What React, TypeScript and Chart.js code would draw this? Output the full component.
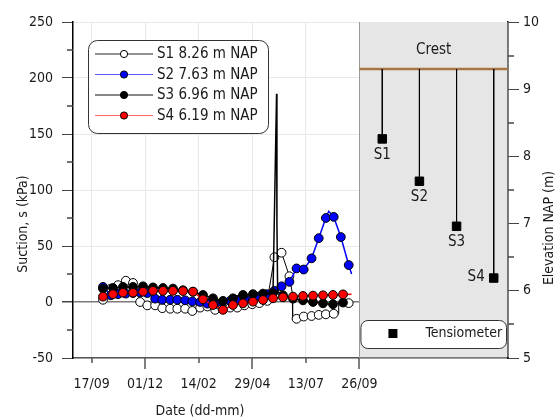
import React, { useEffect, useRef } from 'react';
import { Chart, registerables } from 'chart.js';

Chart.register(...registerables);

// x axis: days after 17/09
const TICK_DAYS = [0, 75, 150, 225, 300, 375];
const TICK_LABELS = ['17/09', '01/12', '14/02', '29/04', '13/07', '26/09'];

// S1 8.26 m NAP (open markers)
const S1_DAYS = [16, 27, 37, 48, 58, 68, 78, 89, 99, 110, 120, 131, 141, 152, 162, 173, 183, 194, 204, 214, 225, 235, 246, 256, 266, 277, 287, 297, 308, 318, 328, 339, 360];
const S1_VALUES = [2, 12, 15, 19, 17, 0, -3, -3, -5.5, -6, -6, -6, -8, -5, -4, -7, -6, -5, -5, -3, -2, -1, 1, 40, 44, 23, -15, -13, -12.5, -11.5, -11, -10.5, -1];
const S1_LINE_DAYS = [281, 281.5, 345.5, 346];
const S1_LINE_VALUES = [8, -16, -10.5, -1.2];

// S2 7.63 m NAP
const S2_DAYS = [16, 27, 37, 48, 58, 68, 78, 89, 99, 110, 120, 131, 141, 152, 162, 173, 183, 194, 204, 214, 225, 235, 246, 256, 266, 277, 287, 297, 308, 318, 328, 339, 349, 360];
const S2_VALUES = [13.5, 6, 7, 7.5, 8, 8.5, 8, 3, 2, 2, 2, 1.5, 0.5, 0, -1.5, -2, 0, 1, 2, 3, 4, 5, 7, 10, 14, 18, 30, 29, 39, 57, 75, 76, 58, 33];
const S2_LINE_DAYS = [332, 364];
const S2_LINE_VALUES = [81, 25];

// S3 6.96 m NAP
const S3_DAYS = [16, 30, 44, 58, 72, 86, 100, 114, 128, 142, 156, 170, 184, 198, 212, 226, 240, 254, 268, 282, 296, 310, 324, 338, 352];
const S3_VALUES = [12, 12.5, 13.5, 13.5, 14, 13, 12.5, 12, 10.5, 9.2, 6.3, 3.3, 1, 3.3, 6.3, 7, 7.5, 8, 6, 3, 1.5, 0, -1.2, -2, -0.5];
const S3_LINE_DAYS = [259, 259.5, 260.5];
const S3_LINE_VALUES = [186, 70, 9];

// S4 6.19 m NAP
const S4_DAYS = [16, 30, 44, 58, 72, 86, 100, 114, 128, 142, 156, 170, 184, 198, 212, 226, 240, 254, 268, 282, 296, 310, 324, 338, 352];
const S4_VALUES = [4.8, 7, 8.3, 8.3, 9.2, 10, 10, 10, 9.8, 9.2, 2.4, -2.7, -7, -2.7, -1.2, 0.3, 1.8, 3.3, 4.2, 4.8, 5.4, 5.7, 6, 6.3, 6.8];
const S4_LINE_DAYS = [364];
const S4_LINE_VALUES = [7];

const SERIES_NAMES = ['S1 8.26 m NAP', 'S2 7.63 m NAP', 'S3 6.96 m NAP', 'S4 6.19 m NAP'];
const SENSOR_NAMES = ['S1', 'S2', 'S3', 'S4'];
const SENSOR_ELEVATIONS = [8.26, 7.63, 6.96, 6.19];
const CREST_ELEVATION = 9.3;

const X_MIN = -26;
const X_MAX = 583;
const PANEL_FIRST_DAY = 375;

const FONT = "'DejaVu Sans Condensed', 'DejaVu Sans', sans-serif";
const TEXT = '#1a1a1a';

const STYLES = [
  { line: '#000000', width: 1, fill: '#ffffff', legendLine: '#222222' },
  { line: '#0000ff', width: 1.5, fill: '#0000ff', legendLine: '#5a5aff' },
  { line: '#000000', width: 1.5, fill: '#000000', legendLine: '#111111' },
  { line: '#ff0000', width: 1.5, fill: '#ff0000', legendLine: '#ff6666' },
];

type Pt = { x: number; y: number; m: boolean };

function buildPoints(days: number[], vals: number[], lineDays: number[], lineVals: number[]): Pt[] {
  const pts: Pt[] = days.map((d, i) => ({ x: d, y: vals[i], m: true }));
  lineDays.forEach((d, i) => pts.push({ x: d, y: lineVals[i], m: false }));
  return pts.sort((a, b) => a.x - b.x);
}

function roundRect(ctx: CanvasRenderingContext2D, x: number, y: number, w: number, h: number, r: number) {
  ctx.beginPath();
  ctx.moveTo(x + r, y);
  ctx.lineTo(x + w - r, y);
  ctx.arcTo(x + w, y, x + w, y + r, r);
  ctx.lineTo(x + w, y + h - r);
  ctx.arcTo(x + w, y + h, x + w - r, y + h, r);
  ctx.lineTo(x + r, y + h);
  ctx.arcTo(x, y + h, x, y + h - r, r);
  ctx.lineTo(x, y + r);
  ctx.arcTo(x, y, x + r, y, r);
  ctx.closePath();
}

function sensorDay(i: number) {
  return PANEL_FIRST_DAY + 32 + i * 52;
}

const decorPlugin = {
  id: 'decor',
  beforeDatasetsDraw(chart: any) {
    const { ctx, chartArea: a, scales } = chart;
    const p0 = scales.x.getPixelForValue(PANEL_FIRST_DAY);
    ctx.save();
    ctx.fillStyle = '#e6e6e6';
    ctx.fillRect(p0, a.top, a.right - p0 - 0.5, a.bottom - a.top - 0.75);
    ctx.strokeStyle = '#9a9a9a';
    ctx.lineWidth = 1;
    ctx.beginPath();
    ctx.moveTo(Math.round(p0) + 0.5, a.top);
    ctx.lineTo(Math.round(p0) + 0.5, a.bottom);
    ctx.stroke();
    ctx.restore();
  },
  afterDraw(chart: any) {
    const { ctx, chartArea: a, scales } = chart;
    const { x, y, y2 } = scales;
    ctx.save();

    // x tick marks (alternating long/short)
    ctx.strokeStyle = '#555';
    ctx.lineWidth = 1.5;
    TICK_DAYS.forEach((d, i) => {
      const px = Math.round(x.getPixelForValue(d));
      const len = i % 2 === 1 ? 11 : 5;
      ctx.beginPath();
      ctx.moveTo(px, a.bottom);
      ctx.lineTo(px, a.bottom + len);
      ctx.stroke();
    });
    // minor y ticks
    ctx.strokeStyle = '#444';
    for (let v = -25; v < 250; v += 50) {
      const py = Math.round(y.getPixelForValue(v));
      ctx.beginPath();
      ctx.moveTo(a.left - 6, py);
      ctx.lineTo(a.left, py);
      ctx.stroke();
    }
    for (let v = 5.5; v < 10; v += 1) {
      const py = Math.round(y2.getPixelForValue(v));
      ctx.beginPath();
      ctx.moveTo(a.right, py);
      ctx.lineTo(a.right + 6, py);
      ctx.stroke();
    }

    // main legend
    const lx = a.left + 15;
    const ly = a.top + 18;
    ctx.fillStyle = '#ffffff';
    ctx.strokeStyle = '#333';
    ctx.lineWidth = 1;
    roundRect(ctx, lx + 0.5, ly + 0.5, 180, 93, 9);
    ctx.fill();
    ctx.stroke();
    ctx.font = `15px ${FONT}`;
    ctx.textBaseline = 'middle';
    ctx.textAlign = 'left';
    SERIES_NAMES.forEach((name, i) => {
      const ry = ly + 14 + i * 20.5;
      const st = STYLES[i];
      ctx.strokeStyle = st.legendLine;
      ctx.lineWidth = 1;
      ctx.beginPath();
      ctx.moveTo(lx + 7, ry);
      ctx.lineTo(lx + 65, ry);
      ctx.stroke();
      ctx.fillStyle = st.fill;
      ctx.strokeStyle = '#000';
      ctx.beginPath();
      ctx.arc(lx + 36, ry, 3.6, 0, Math.PI * 2);
      ctx.fill();
      ctx.stroke();
      ctx.fillStyle = TEXT;
      ctx.fillText(name, lx + 69, ry + 0.5);
    });

    // panel texts
    const p0 = x.getPixelForValue(PANEL_FIRST_DAY);
    const pc = (p0 + a.right) / 2;
    ctx.font = `15px ${FONT}`;
    ctx.fillStyle = TEXT;
    ctx.textAlign = 'center';
    ctx.fillText('Crest', pc, a.top + 28);
    SENSOR_NAMES.forEach((n, i) => {
      const sx = x.getPixelForValue(sensorDay(i));
      const sy = y2.getPixelForValue(SENSOR_ELEVATIONS[i]);
      if (i === 3) {
        ctx.textAlign = 'right';
        ctx.fillText(n, sx - 9, sy - 1);
      } else {
        ctx.textAlign = 'center';
        ctx.fillText(n, sx, sy + 16);
      }
    });
    // tensiometer legend
    const bx = p0 + 1;
    const by = a.bottom - 38;
    ctx.fillStyle = '#ffffff';
    ctx.strokeStyle = '#333';
    ctx.lineWidth = 1;
    roundRect(ctx, bx + 0.5, by + 0.5, a.right - bx - 2, 28, 7);
    ctx.fill();
    ctx.stroke();
    ctx.fillStyle = '#000';
    ctx.fillRect(bx + 28, by + 9, 9, 9);
    ctx.fillStyle = TEXT;
    ctx.textAlign = 'left';
    ctx.font = `14px ${FONT}`;
    ctx.fillText('Tensiometer', bx + 65, by + 13);

    // axis titles
    ctx.font = `14px ${FONT}`;
    ctx.textAlign = 'center';
    ctx.textBaseline = 'middle';
    ctx.fillText('Date (dd-mm)', 200, 411);
    ctx.save();
    ctx.translate(23, 224);
    ctx.rotate(-Math.PI / 2);
    ctx.fillText('Suction, s (kPa)', 0, 0);
    ctx.restore();
    ctx.save();
    ctx.translate(549, 228);
    ctx.rotate(-Math.PI / 2);
    ctx.fillText('Elevation NAP (m)', 0, 0);
    ctx.restore();

    ctx.restore();
  },
};

export default function App() {
  const canvasRef = useRef<HTMLCanvasElement | null>(null);

  useEffect(() => {
    const canvas = canvasRef.current;
    if (!canvas) return;
    const series = [
      buildPoints(S1_DAYS, S1_VALUES, S1_LINE_DAYS, S1_LINE_VALUES),
      buildPoints(S2_DAYS, S2_VALUES, S2_LINE_DAYS, S2_LINE_VALUES),
      buildPoints(S3_DAYS, S3_VALUES, S3_LINE_DAYS, S3_LINE_VALUES),
      buildPoints(S4_DAYS, S4_VALUES, S4_LINE_DAYS, S4_LINE_VALUES),
    ];
    const datasets: any[] = series.map((pts, i) => ({
      type: 'line',
      label: SERIES_NAMES[i],
      data: pts,
      xAxisID: 'x',
      yAxisID: 'y',
      borderColor: STYLES[i].line,
      borderWidth: STYLES[i].width,
      backgroundColor: STYLES[i].fill,
      pointBackgroundColor: STYLES[i].fill,
      pointBorderColor: '#000',
      pointBorderWidth: 1,
      pointRadius: (c: any) => (c.raw && c.raw.m ? 4.4 : 0),
      pointHoverRadius: (c: any) => (c.raw && c.raw.m ? 4.4 : 0),
      tension: 0,
      fill: false,
      order: 5 - i,
    }));
    datasets.push({
      type: 'line',
      label: 'Crest',
      data: [
        { x: PANEL_FIRST_DAY, y: CREST_ELEVATION },
        { x: X_MAX, y: CREST_ELEVATION },
      ],
      xAxisID: 'x',
      yAxisID: 'y2',
      borderColor: '#a87543',
      borderWidth: 2.5,
      pointRadius: 0,
      order: 1,
    });
    SENSOR_ELEVATIONS.forEach((elev, i) => {
      datasets.push({
        type: 'line',
        label: SENSOR_NAMES[i],
        data: [
          { x: sensorDay(i), y: CREST_ELEVATION },
          { x: sensorDay(i), y: elev },
        ],
        xAxisID: 'x',
        yAxisID: 'y2',
        borderColor: '#000',
        borderWidth: 1,
        pointStyle: 'rect',
        pointRadius: (c: any) => (c.dataIndex === 1 ? 6 : 0),
        pointHoverRadius: (c: any) => (c.dataIndex === 1 ? 6 : 0),
        pointBackgroundColor: '#000',
        pointBorderColor: '#000',
        pointBorderWidth: 1,
        order: 0,
      });
    });

    const chart = new Chart(canvas, {
      type: 'line',
      data: { datasets },
      plugins: [decorPlugin as any],
      options: {
        animation: false,
        responsive: false,
        maintainAspectRatio: false,
        layout: { padding: { top: 22, left: 0, right: 0, bottom: 0 } },
        plugins: { legend: { display: false }, tooltip: { enabled: false } },
        scales: {
          x: {
            type: 'linear',
            position: 'bottom',
            min: X_MIN,
            max: X_MAX,
            afterBuildTicks: (s: any) => {
              s.ticks = TICK_DAYS.map((v) => ({ value: v }));
            },
            afterFit: (s: any) => {
              s.height = 62;
            },
            ticks: {
              autoSkip: false,
              maxRotation: 0,
              padding: 7,
              color: TEXT,
              font: { family: FONT, size: 14 },
              callback: (v: any) => {
                const idx = TICK_DAYS.indexOf(Number(v));
                return idx >= 0 ? TICK_LABELS[idx] : '';
              },
            },
            grid: { color: '#e8e8e8', lineWidth: 1, tickColor: 'rgba(0,0,0,0)', tickLength: 11 },
            border: { color: '#555', width: 1.5 },
          },
          y: {
            position: 'left',
            min: -50,
            max: 250,
            afterFit: (s: any) => {
              s.width = 73;
            },
            ticks: { stepSize: 50, padding: 9, color: TEXT, font: { family: FONT, size: 14 } },
            grid: {
              color: (c: any) => (c.tick && c.tick.value === 0 ? '#7a7a7a' : '#e8e8e8'),
              lineWidth: (c: any) => (c.tick && c.tick.value === 0 ? 1.5 : 1),
              tickColor: '#444',
              tickLength: 11,
            },
            border: { color: '#000', width: 1.5 },
          },
          y2: {
            position: 'right',
            min: 5,
            max: 10,
            afterFit: (s: any) => {
              s.width = 49;
            },
            ticks: { stepSize: 1, padding: 4, color: TEXT, font: { family: FONT, size: 14 } },
            grid: { drawOnChartArea: false, tickColor: '#444', tickLength: 11 },
            border: { color: '#000', width: 1.5 },
          },
        },
      } as any,
    });
    return () => chart.destroy();
  }, []);

  return (
    <div style={{ position: 'fixed', left: 0, top: 0, width: 557, height: 420, background: '#fff' }}>
      <canvas ref={canvasRef} width={557} height={420} style={{ display: 'block' }} />
    </div>
  );
}
